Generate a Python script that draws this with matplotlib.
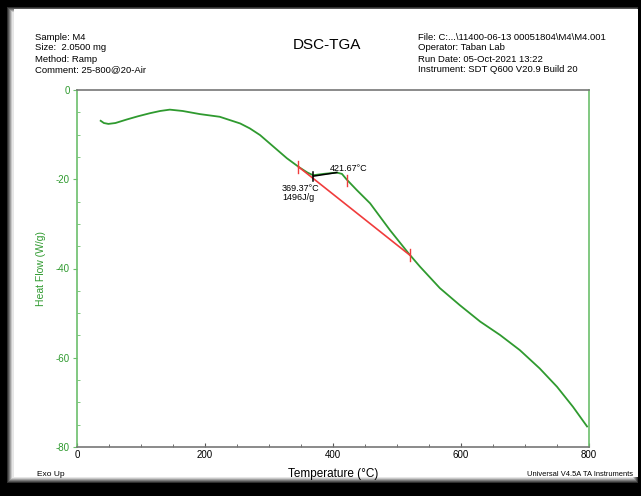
import numpy as np
import matplotlib.pyplot as plt
from matplotlib.patches import Rectangle
from matplotlib.ticker import MultipleLocator

plt.rcParams['font.family'] = ['Liberation Sans', 'DejaVu Sans']
plt.rcParams['axes.unicode_minus'] = False

# DSC heat flow curve
temp = [37, 42, 49, 60, 78, 95, 114, 130, 145, 165, 192, 223, 255, 270, 286, 307, 328,
        347, 360, 369, 385, 406, 414, 421, 437, 458, 489, 518, 536,
        567, 598, 630, 661, 692, 723, 750, 775, 797]
heat_flow = [-6.9, -7.4, -7.6, -7.4, -6.6, -5.9, -5.2, -4.7, -4.4, -4.7, -5.4, -6.0, -7.5,
             -8.6, -10.1, -12.7, -15.3, -17.3, -18.5, -19.1, -18.8, -18.5, -18.8, -20.0,
             -22.4, -25.4, -31.4, -36.6, -39.6,
             -44.4, -48.2, -51.9, -54.9, -58.3, -62.4, -66.5, -71.0, -75.4]

# integration baseline and peak annotations
base_t = [346, 520]
base_hf = [-17.2, -37.0]
onset_t, onset_hf = 369.37, -19.3
peak_t, peak_hf = 421.67, -20.3
peak_lead_t, peak_lead_hf = 406, -18.5
enthalpy = "1496J/g"

header_left = ["Sample: M4", "Size:  2.0500 mg", "Method: Ramp", "Comment: 25-800@20-Air"]
header_right = ["File: C:...\\11400-06-13 00051804\\M4\\M4.001", "Operator: Taban Lab",
                "Run Date: 05-Oct-2021 13:22", "Instrument: SDT Q600 V20.9 Build 20"]

green = '#2f9a2f'
spine_green = '#6cbf6c'

fig = plt.figure(figsize=(6.41, 4.96), dpi=100, facecolor='black')

# white page with a soft grey shadow inside the black frame
W, H = 641, 496
for i, g in enumerate(['#303030', '#555555', '#7a7a7a', '#a0a0a0', '#c8c8c8', '#e6e6e6']):
    fig.patches.append(Rectangle(((7 + i) / W, 1 - (483 - i) / H), (631 - 2 * i) / W,
                                 (476 - 2 * i) / H, transform=fig.transFigure,
                                 facecolor=g, edgecolor='none', zorder=0))
fig.patches.append(Rectangle((14 / W, 1 - 477 / H), 624 / W, 468 / H,
                             transform=fig.transFigure, facecolor='white',
                             edgecolor='none', zorder=0))

ax = fig.add_axes([77 / W, 1 - 447 / H, 512 / W, 357 / H])
ax.set_facecolor('none')
ax.set_zorder(3)

ax.plot(temp, heat_flow, color=green, lw=1.3, solid_joinstyle='round')
ax.plot(base_t, base_hf, color='#f03c3c', lw=1.2)
# red limit marks on the curve
for t, hf in [(base_t[0], base_hf[0]), (peak_t, peak_hf), (base_t[1], base_hf[1])]:
    ax.plot([t, t], [hf - 1.3, hf + 1.3], color='#f03c3c', lw=1.0)
ax.plot([onset_t, peak_lead_t], [onset_hf, peak_lead_hf], color='black', lw=1.1)
ax.plot([onset_t, onset_t], [onset_hf - 1.2, onset_hf + 0.9], color='black', lw=1.1)

ax.text(onset_t - 49, onset_hf - 1.7, f"{onset_t:.2f}°C\n{enthalpy}", fontsize=6.5,
        va='top', ha='left', linespacing=1.05)
ax.text(peak_lead_t - 11, -17.6, f"{peak_t:.2f}°C", fontsize=6.5, va='center', ha='left')

ax.set_xlim(0, 800)
ax.set_ylim(-80, 0)
ax.xaxis.set_major_locator(MultipleLocator(200))
ax.xaxis.set_minor_locator(MultipleLocator(50))
ax.yaxis.set_major_locator(MultipleLocator(20))
ax.yaxis.set_minor_locator(MultipleLocator(5))

for s in ['left', 'right']:
    ax.spines[s].set_color(spine_green)
    ax.spines[s].set_linewidth(1.2)
for s in ['top', 'bottom']:
    ax.spines[s].set_color('#777777')
    ax.spines[s].set_linewidth(1.2)

ax.tick_params(axis='x', which='both', direction='in', colors='#555555', labelcolor='black',
               labelsize=7, pad=2)
ax.tick_params(axis='x', which='major', length=3)
ax.tick_params(axis='x', which='minor', length=2)
ax.tick_params(axis='y', which='major', direction='out', length=3, colors=spine_green,
               labelcolor=green, labelsize=7, pad=2)
ax.tick_params(axis='y', which='minor', direction='in', length=2, colors=spine_green)

ax.set_xlabel("Temperature (°C)", fontsize=8.5, labelpad=6)
ax.set_ylabel("Heat Flow (W/g)", fontsize=7.5, color=green, labelpad=7)

y0 = 1 - 37 / H
for i, line in enumerate(header_left):
    fig.text(35 / W, y0 - i * 11 / H, line, fontsize=6.8, va='center', ha='left')
for i, line in enumerate(header_right):
    fig.text(418 / W, y0 - i * 11 / H, line, fontsize=6.8, va='center', ha='left')
fig.text(327 / W, 1 - 45 / H, "DSC-TGA", fontsize=11, va='center', ha='center')

fig.text(37 / W, 1 - 474 / H, "Exo Up", fontsize=6, va='center', ha='left')
fig.text(527 / W, 1 - 474 / H, "Universal V4.5A TA Instruments", fontsize=5.4, va='center',
         ha='left')

fig.savefig("out.png", dpi=100, facecolor=fig.get_facecolor())
